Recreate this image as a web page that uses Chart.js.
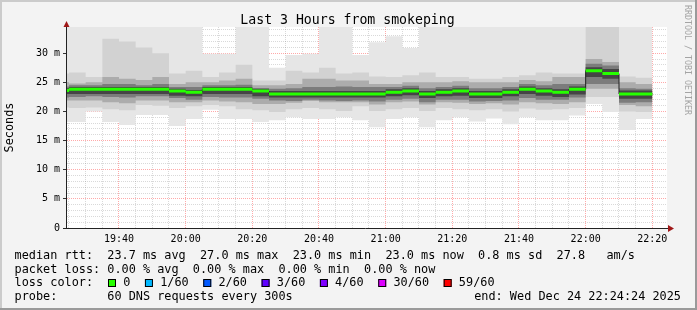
<html><head>
<meta charset="UTF-8">
<title>Last 3 Hours from smokeping</title>
<script src="https://cdn.jsdelivr.net/npm/chart.js"></script>
<style>
  body { margin: 0; background: #f3f3f3; }
  #wrap { width: 697px; height: 310px; }
</style>
</head>
<body>
<div id="wrap"><canvas id="smoke" width="697" height="310"></canvas></div>

<script>
// start of each 5 minute step (first one is cut by the left edge)
const steps = ['19:20', '19:25', '19:30', '19:35', '19:40', '19:45', '19:50', '19:55',
  '20:00', '20:05', '20:10', '20:15', '20:20', '20:25', '20:30', '20:35', '20:40', '20:45', '20:50', '20:55',
  '21:00', '21:05', '21:10', '21:15', '21:20', '21:25', '21:30', '21:35', '21:40', '21:45', '21:50', '21:55',
  '22:00', '22:05', '22:10', '22:15'];
const stepEnd = '22:20';
const startTime = '19:24:24';
const endTime = '22:24:24';

// median rtt in ms
const median = [23.6, 23.8, 23.8, 23.8, 23.8, 23.8, 23.8, 23.5, 23.3, 23.8, 23.8, 23.8, 23.5,
  23.0, 23.0, 23.0, 23.0, 23.0, 23.0, 23.0, 23.3, 23.5, 23.0, 23.3, 23.5, 23.0, 23.0,
  23.3, 23.8, 23.5, 23.3, 23.8, 27.0, 26.5, 23.0, 23.0];

// smoke: sorted ping spread, outer (lo0/hi0) to inner (lo4/hi4)
const hi0 = [40, 40, 40, 40, 40, 40, 40, 40, 40, 29.9, 29.9, 40, 40, 27.5, 29.7, 29.9, 40, 40,
  29.7, 31.9, 32.9, 30.9, 40, 40, 40, 40, 40, 40, 40, 40, 40, 40, 40, 40, 40, 40];
const hi1 = [26.5, 26.7, 25.9, 32.5, 32.0, 31.0, 30.0, 26.5, 27.0, 25.9, 26.7, 28.0, 25.3, 25.3,
  27.0, 26.7, 27.5, 26.5, 26.7, 26.0, 25.9, 26.2, 26.7, 25.9, 25.9, 25.6, 25.6, 25.9, 26.2,
  26.7, 26.5, 26.5, 40, 40, 26.0, 25.8];
const hi2 = [25.0, 24.8, 25.0, 25.9, 25.6, 25.4, 25.9, 24.7, 25.0, 25.0, 25.3, 25.6, 24.5, 24.5,
  24.7, 25.6, 25.6, 25.3, 25.3, 24.7, 24.7, 25.0, 25.0, 25.0, 25.2, 25.0, 25.0, 25.0, 25.4,
  25.2, 25.9, 25.9, 29.0, 28.5, 25.0, 24.7];
const hi3 = [24.3, 24.5, 24.5, 24.7, 24.7, 24.5, 24.7, 24.2, 24.2, 24.5, 24.5, 24.6, 24.0, 23.9,
  24.0, 24.2, 24.2, 24.3, 24.2, 24.2, 24.2, 24.4, 24.0, 24.2, 24.4, 24.0, 24.0, 24.2, 24.7,
  24.5, 24.7, 24.7, 28.2, 27.9, 24.0, 23.9];
const hi4 = [24.0, 24.2, 24.2, 24.2, 24.2, 24.2, 24.2, 23.9, 23.7, 24.2, 24.2, 24.2, 23.9,
  23.5, 23.5, 23.5, 23.5, 23.5, 23.5, 23.5, 23.8, 24.0, 23.5, 23.8, 24.0, 23.5, 23.5,
  23.8, 24.3, 24.0, 23.8, 24.3, 27.6, 27.3, 23.6, 23.6];
const lo4 = [23.0, 23.0, 23.0, 23.0, 23.0, 23.0, 23.0, 22.7, 22.6, 23.0, 23.0, 23.0, 22.6,
  22.4, 22.4, 22.4, 22.4, 22.4, 22.4, 22.4, 22.6, 22.8, 22.3, 22.6, 22.7, 22.3, 22.3,
  22.6, 23.0, 22.7, 22.5, 22.9, 25.9, 25.6, 22.2, 22.2];
const lo3 = [22.4, 22.5, 22.6, 22.5, 22.4, 22.6, 22.6, 22.3, 22.0, 22.5, 22.4, 22.4, 22.2, 21.9,
  21.8, 22.0, 21.9, 21.8, 21.9, 21.7, 22.0, 22.2, 21.6, 22.0, 22.0, 21.7, 21.8, 21.9, 22.3,
  22.0, 22.0, 22.4, 24.7, 24.7, 21.5, 21.6];
const lo2 = [21.9, 21.9, 21.9, 21.6, 21.4, 21.9, 21.9, 21.6, 21.6, 21.9, 21.7, 21.6, 21.3, 21.3,
  21.5, 21.8, 21.6, 21.6, 21.6, 21.2, 21.6, 21.7, 21.2, 21.6, 21.5, 21.3, 21.4, 21.2, 21.6,
  21.4, 21.3, 21.6, 23.9, 23.9, 21.1, 20.9];
const lo1 = [20.7, 20.6, 20.7, 20.4, 20.2, 21.1, 21.0, 20.6, 20.9, 21.1, 20.9, 20.4, 20.2, 19.9,
  20.4, 20.6, 20.4, 20.1, 20.9, 20.1, 20.4, 20.6, 20.1, 20.6, 20.4, 20.2, 20.4, 20.0, 20.5,
  20.3, 20.4, 20.6, 22.5, 22.5, 20.0, 19.9];
const lo0 = [18.2, 18.2, 20.0, 18.2, 17.7, 19.4, 19.4, 17.5, 18.7, 20.3, 18.7, 18.7, 18.2, 18.5,
  19.0, 18.7, 18.7, 19.0, 18.5, 17.3, 18.7, 19.0, 17.3, 18.5, 19.0, 18.3, 18.8, 17.8, 19.0,
  18.5, 18.5, 19.3, 21.3, 19.9, 16.8, 18.7];

const lossLabels = ['0', '1/60', '2/60', '3/60', '4/60', '30/60', '59/60'];
const lossColors = ['#26ff00', '#00b8ff', '#0059ff', '#5e00ff', '#7e00ff', '#dd00ff', '#ff0000'];

const legendRows = [
  'median rtt:  23.7 ms avg  27.0 ms max  23.0 ms min  23.0 ms now  0.8 ms sd  27.8   am/s',
  'packet loss: 0.00 % avg  0.00 % max  0.00 % min  0.00 % now',
  'loss color:',
  'probe:       60 DNS requests every 300s'
];
const endStamp = 'end: Wed Dec 24 22:24:24 2025';
const title = 'Last 3 Hours from smokeping';
const watermark = 'RRDTOOL / TOBI OETIKER';

const MONO = '"DejaVu Sans Mono", monospace';
const majorGrid = 'rgba(255,40,40,0.4)';
const minorGrid = 'rgba(120,120,120,0.28)';

function toMin(s) {
  const p = s.split(':').map(Number);
  return p[0] * 60 + p[1] + (p[2] || 0) / 60;
}
function hhmm(v) {
  const h = Math.floor(v / 60), m = Math.round(v % 60);
  return h + ':' + String(m).padStart(2, '0');
}

const edges = steps.concat([stepEnd]).map(toMin);
function stepSeries(vals) {
  return edges.map((x, i) => ({x: x, y: vals[Math.min(i, vals.length - 1)]}));
}

const datasets = [];
const bands = [[lo0, hi0, '#e6e6e6'], [lo1, hi1, '#d2d2d2'], [lo2, hi2, '#acacac'],
               [lo3, hi3, '#7c7c7c'], [lo4, hi4, '#454545']];
bands.forEach(([lo, hi, col], b) => {
  const loIdx = datasets.length;
  datasets.push({data: stepSeries(lo), stepped: true, borderWidth: 0, pointRadius: 0,
    fill: false, order: 30 - b * 2});
  datasets.push({data: stepSeries(hi), stepped: true, borderWidth: 0, pointRadius: 0,
    backgroundColor: col, fill: loIdx, order: 29 - b * 2});
});

// thin dark median with the vertical steps
datasets.push({data: stepSeries(median), stepped: true, borderColor: '#202020', borderWidth: 1,
  pointRadius: 0, fill: false, order: 1});

// loss coloured median, horizontal pieces only
const greenData = [];
median.forEach((v, i) => {
  greenData.push({x: edges[i], y: v}, {x: edges[i + 1], y: v}, {x: edges[i + 1], y: null});
});
datasets.push({data: greenData, borderColor: lossColors[0], borderWidth: 3, borderCapStyle: 'butt',
  pointRadius: 0, fill: false, spanGaps: false, order: 0});

const decor = {
  id: 'decor',
  beforeDraw(chart) {
    const {ctx, chartArea: a, width, height} = chart;
    ctx.save();
    ctx.fillStyle = '#f3f3f3';
    ctx.fillRect(0, 0, width, height);
    ctx.fillStyle = '#ffffff';
    ctx.fillRect(a.left, a.top, a.right - a.left, a.bottom - a.top);
    ctx.restore();
  },
  afterDraw(chart) {
    const {ctx, chartArea: a, width, height} = chart;
    ctx.save();

    // axes
    ctx.strokeStyle = '#222';
    ctx.lineWidth = 1;
    ctx.beginPath();
    ctx.moveTo(a.left - 0.5, a.top - 1);
    ctx.lineTo(a.left - 0.5, a.bottom + 0.5);
    ctx.moveTo(a.left - 4, a.bottom + 0.5);
    ctx.lineTo(a.right + 1, a.bottom + 0.5);
    ctx.stroke();
    ctx.fillStyle = '#a01818';
    ctx.beginPath();
    ctx.moveTo(a.left - 3.5, a.top);
    ctx.lineTo(a.left + 2.5, a.top);
    ctx.lineTo(a.left - 0.5, a.top - 6);
    ctx.closePath();
    ctx.fill();
    ctx.beginPath();
    ctx.moveTo(a.right + 1, a.bottom - 3);
    ctx.lineTo(a.right + 1, a.bottom + 4);
    ctx.lineTo(a.right + 7, a.bottom + 0.5);
    ctx.closePath();
    ctx.fill();

    // title
    ctx.fillStyle = '#000';
    ctx.font = '13.2px ' + MONO;
    ctx.textAlign = 'center';
    ctx.textBaseline = 'alphabetic';
    ctx.fillText(title, 347.5, 24);

    // watermark
    ctx.save();
    ctx.fillStyle = '#a4a4a4';
    ctx.font = '8.3px ' + MONO;
    ctx.textAlign = 'left';
    ctx.translate(685, 5);
    ctx.rotate(Math.PI / 2);
    ctx.fillText(watermark, 0, 0);
    ctx.restore();

    // legend
    ctx.font = '11.85px ' + MONO;
    ctx.textAlign = 'left';
    ctx.fillStyle = '#000';
    const base = [259, 272.5, 286, 299.5];
    legendRows.forEach((row, i) => ctx.fillText(row, 14.6, base[i]));
    ctx.textAlign = 'right';
    ctx.fillText(endStamp, 681, base[3]);
    ctx.textAlign = 'left';
    let x = 108;
    lossLabels.forEach((lab, i) => {
      ctx.fillStyle = lossColors[i];
      ctx.fillRect(x, 279, 8, 8);
      ctx.strokeStyle = '#000';
      ctx.strokeRect(x + 0.5, 279.5, 7, 7);
      ctx.fillStyle = '#000';
      ctx.fillText(lab, x + 15.2, base[2]);
      x += 15.2 + ctx.measureText(lab).width + 14.6;
    });

    // frame
    ctx.fillStyle = '#cbcbcb';
    ctx.fillRect(0, 0, width, 2);
    ctx.fillRect(0, 0, 2, height);
    ctx.fillStyle = '#9a9a9a';
    ctx.fillRect(0, height - 2, width, 2);
    ctx.fillRect(width - 2, 0, 2, height);
    ctx.restore();
  }
};

Chart.defaults.font.family = MONO;

new Chart(document.getElementById('smoke'), {
  type: 'line',
  data: {datasets: datasets},
  plugins: [decor],
  options: {
    responsive: false,
    animation: false,
    events: [],
    layout: {padding: {top: 27, right: 30, left: 0, bottom: 0}},
    plugins: {legend: {display: false}, tooltip: {enabled: false}},
    scales: {
      x: {
        type: 'linear',
        min: toMin(startTime),
        max: toMin(endTime),
        z: 1,
        afterFit: s => { s.height = 82; },
        afterBuildTicks: s => {
          const t = [];
          for (let v = Math.ceil(s.min / 5) * 5; v <= s.max; v += 5) t.push({value: v});
          s.ticks = t;
        },
        grid: {
          color: c => (c.tick && c.tick.value % 20 === 0) ? majorGrid : minorGrid,
          drawTicks: false
        },
        border: {display: false, dash: [1, 1]},
        ticks: {
          autoSkip: false, maxRotation: 0, padding: 5, color: '#000', font: {size: 10},
          callback: v => v % 20 === 0 ? hhmm(v) : ''
        }
      },
      y: {
        min: 0,
        max: 34.5,
        z: 1,
        afterFit: s => { s.width = 67; },
        afterBuildTicks: s => {
          const t = [];
          for (let v = 0; v <= s.max; v += 1) t.push({value: v});
          s.ticks = t;
        },
        grid: {
          color: c => c.tick.value === 0 ? 'rgba(0,0,0,0)' : (c.tick.value % 5 === 0 ? majorGrid : minorGrid),
          tickLength: 4,
          tickColor: c => c.tick.value % 5 === 0 ? '#333' : 'rgba(0,0,0,0)'
        },
        border: {display: false, dash: [1, 1]},
        ticks: {
          autoSkip: false, padding: 3, color: '#000', font: {size: 10},
          callback: v => v === 0 ? '0' : (v % 5 === 0 ? v + ' m' : '')
        },
        title: {display: true, text: 'Seconds', color: '#000', font: {size: 11.85}, padding: {top: 3, bottom: 0}}
      }
    }
  }
});
</script>
</body></html>
